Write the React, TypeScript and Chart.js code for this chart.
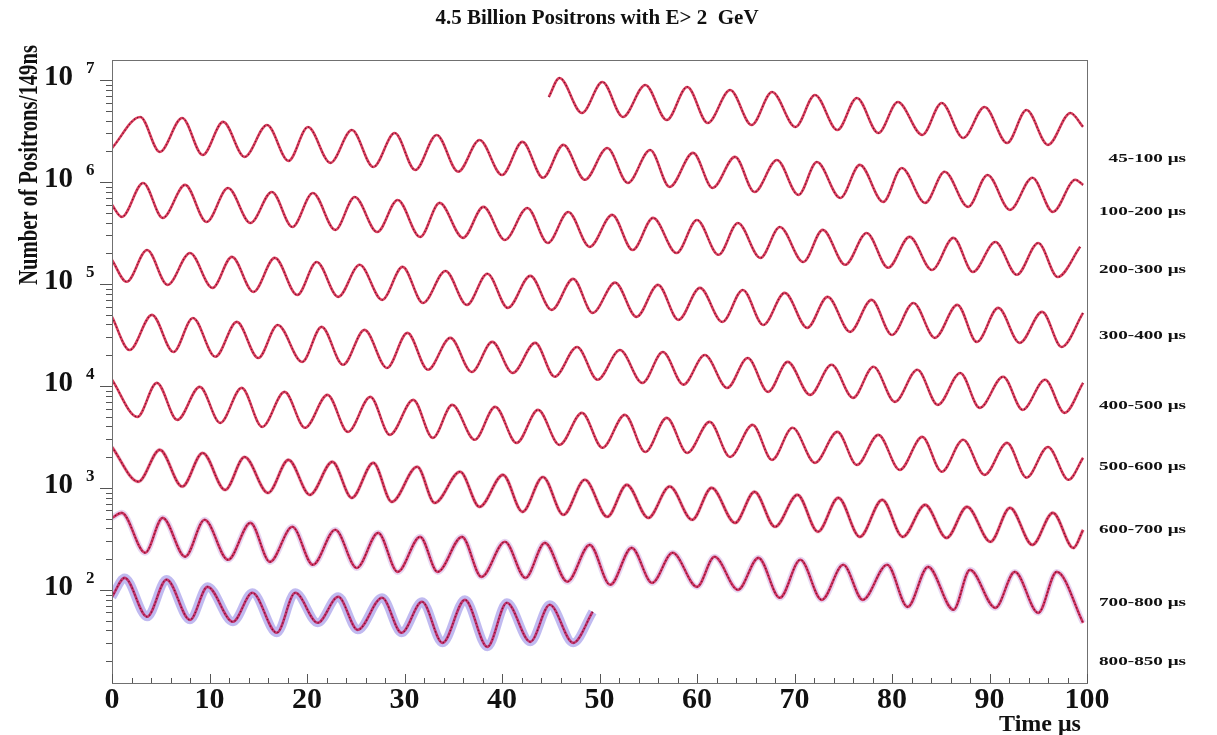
import React, { useEffect, useRef } from "react";
import { Chart, registerables } from "chart.js";

Chart.register(...registerables);

// ---------------- text ----------------
const TITLE = "4.5 Billion Positrons with E> 2  GeV";
const Y_TITLE = "Number of Positrons/149ns";
const X_TITLE = "Time μs";
const X_TICK_LABELS = [0, 10, 20, 30, 40, 50, 60, 70, 80, 90, 100];
const Y_DECADES = [2, 3, 4, 5, 6, 7];
const ROW_LABELS = [
  "45-100 μs",
  "100-200 μs",
  "200-300 μs",
  "300-400 μs",
  "400-500 μs",
  "500-600 μs",
  "600-700 μs",
  "700-800 μs",
  "800-850 μs",
];

// ---------------- data (time in μs within the 100 μs window, counts per 149 ns bin) ----------------
// 45-100 μs
const tA = [44.8, 45.9, 48.2, 50.3, 52.4, 54.7, 56.9, 59.0, 61.1, 63.4, 65.6, 67.7, 70.1, 72.1, 74.4, 76.4, 78.6, 80.6, 83.1, 85.1, 87.3, 89.5, 91.8, 93.8, 96.0, 98.3, 99.6];
const nA = [6.81e6, 1.046e7, 4.75e6, 9.56e6, 4.34e6, 8.93e6, 4.05e6, 8.54e6, 3.79e6, 7.98e6, 3.62e6, 7.63e6, 3.46e6, 7.13e6, 3.23e6, 6.66e6, 3.02e6, 6.09e6, 2.89e6, 5.95e6, 2.70e6, 5.44e6, 2.41e6, 5.08e6, 2.31e6, 4.75e6, 3.46e6];
// 100-200 μs
const tB = [0, 2.9, 4.9, 7.2, 9.3, 11.4, 13.6, 15.9, 18.1, 20.1, 22.4, 24.6, 26.8, 29.0, 31.1, 33.3, 35.5, 37.7, 40.0, 42.1, 44.2, 46.3, 48.5, 50.8, 52.9, 55.2, 57.2, 59.6, 61.6, 63.9, 65.9, 68.2, 70.4, 72.3, 74.7, 76.7, 79.1, 81.0, 83.4, 85.4, 87.8, 89.8, 92.1, 94.4, 96.5, 98.8, 99.6];
const nB = [2.15e6, 4.34e6, 1.97e6, 4.24e6, 1.84e6, 3.88e6, 1.76e6, 3.62e6, 1.61e6, 3.46e6, 1.54e6, 3.23e6, 1.40e6, 3.02e6, 1.31e6, 2.89e6, 1.26e6, 2.58e6, 1.17e6, 2.47e6, 1.10e6, 2.31e6, 1.05e6, 2.15e6, 9.78e5, 2.06e6, 8.93e5, 1.93e6, 8.73e5, 1.76e6, 7.98e5, 1.64e6, 7.46e5, 1.57e6, 6.97e5, 1.47e6, 6.37e5, 1.37e6, 6.23e5, 1.26e6, 5.69e5, 1.17e6, 5.32e5, 1.10e6, 5.08e5, 1.05e6, 9.35e5];
// 200-300 μs
const tC = [0, 1.0, 3.2, 5.2, 7.5, 9.7, 11.9, 14.2, 16.4, 18.5, 20.6, 22.9, 24.9, 27.2, 29.3, 31.6, 33.6, 36.0, 38.1, 40.3, 42.6, 44.7, 46.8, 49.0, 51.3, 53.4, 55.5, 57.9, 60.0, 62.2, 64.2, 66.5, 68.5, 70.9, 72.9, 75.2, 77.4, 79.6, 81.8, 84.1, 86.3, 88.3, 90.6, 92.8, 95.0, 97.0, 99.3];
const nC = [5.95e5, 4.54e5, 9.78e5, 4.44e5, 9.35e5, 4.05e5, 8.73e5, 3.96e5, 7.98e5, 3.62e5, 7.80e5, 3.39e5, 7.13e5, 3.23e5, 6.66e5, 2.89e5, 6.23e5, 2.83e5, 5.69e5, 2.70e5, 5.56e5, 2.52e5, 5.08e5, 2.31e5, 4.75e5, 2.15e5, 4.44e5, 2.01e5, 4.24e5, 1.93e5, 3.96e5, 1.80e5, 3.62e5, 1.64e5, 3.39e5, 1.54e5, 3.16e5, 1.44e5, 2.89e5, 1.37e5, 2.83e5, 1.31e5, 2.58e5, 1.23e5, 2.52e5, 1.17e5, 2.31e5];
// 300-400 μs
const tD = [0, 1.5, 3.6, 5.7, 8.0, 10.3, 12.3, 14.5, 16.7, 19.0, 21.0, 23.2, 25.4, 27.7, 29.8, 31.9, 34.2, 36.4, 38.5, 40.6, 42.9, 45.1, 47.3, 49.3, 51.6, 53.8, 56.0, 58.1, 60.3, 62.6, 64.7, 66.8, 69.0, 71.3, 73.4, 75.7, 77.9, 80.0, 82.2, 84.4, 86.7, 88.7, 90.9, 93.1, 95.4, 97.4, 99.6];
const nD = [1.72e5, 1.05e5, 2.15e5, 9.78e4, 2.01e5, 9.14e4, 1.84e5, 8.35e4, 1.80e5, 7.80e4, 1.64e5, 7.46e4, 1.54e5, 6.97e4, 1.47e5, 6.51e4, 1.34e5, 6.23e4, 1.26e5, 5.82e4, 1.20e5, 5.56e4, 1.12e5, 5.20e4, 1.03e5, 4.75e4, 9.78e4, 4.44e4, 9.14e4, 4.24e4, 8.73e4, 3.96e4, 8.16e4, 3.71e4, 7.46e4, 3.39e4, 6.97e4, 3.16e4, 6.51e4, 2.96e4, 6.23e4, 2.70e4, 5.82e4, 2.64e4, 5.32e4, 2.41e4, 5.20e4];
// 400-500 μs
const tE = [0, 1.8, 4.1, 6.3, 8.3, 10.6, 12.8, 15.0, 17.0, 19.5, 21.5, 23.7, 25.9, 28.2, 30.3, 32.4, 34.7, 36.9, 39.0, 41.1, 43.4, 45.4, 47.7, 49.8, 52.1, 54.4, 56.5, 58.6, 60.8, 63.1, 65.2, 67.3, 69.3, 71.6, 73.8, 76.0, 78.1, 80.3, 82.6, 84.7, 87.0, 89.0, 91.4, 93.4, 95.7, 97.7, 99.6];
const nE = [4.75e4, 2.25e4, 4.97e4, 2.15e4, 4.64e4, 1.93e4, 4.24e4, 1.88e4, 3.96e4, 1.72e4, 3.79e4, 1.61e4, 3.54e4, 1.50e4, 3.31e4, 1.44e4, 2.96e4, 1.37e4, 2.70e4, 1.34e4, 2.64e4, 1.23e4, 2.41e4, 1.15e4, 2.25e4, 1.07e4, 2.15e4, 1.03e4, 2.01e4, 9.56e3, 1.88e4, 8.73e3, 1.72e4, 8.16e3, 1.61e4, 7.63e3, 1.54e4, 6.97e3, 1.44e4, 6.51e3, 1.34e4, 6.09e3, 1.23e4, 5.82e3, 1.15e4, 5.44e3, 1.07e4];
// 500-600 μs
const tF = [0, 2.6, 4.6, 6.7, 9.0, 11.1, 13.3, 15.4, 17.7, 19.8, 22.1, 24.2, 26.5, 28.5, 30.9, 32.9, 34.9, 37.2, 39.3, 41.5, 43.7, 45.9, 48.2, 50.3, 52.6, 54.7, 56.9, 59.0, 61.3, 63.4, 65.7, 67.7, 69.8, 72.1, 74.4, 76.4, 78.6, 80.8, 83.1, 85.1, 87.3, 89.5, 91.8, 93.8, 96.0, 98.1, 99.6];
const nF = [1.15e4, 4.97e3, 1.07e4, 4.64e3, 9.78e3, 4.34e3, 9.56e3, 3.96e3, 8.73e3, 3.88e3, 8.16e3, 3.54e3, 7.80e3, 3.31e3, 7.29e3, 3.09e3, 6.51e3, 2.96e3, 6.23e3, 2.76e3, 5.82e3, 2.64e3, 5.44e3, 2.47e3, 5.20e3, 2.25e3, 4.86e3, 2.20e3, 4.44e3, 2.01e3, 4.15e3, 1.88e3, 3.88e3, 1.76e3, 3.54e3, 1.68e3, 3.31e3, 1.50e3, 3.16e3, 1.44e3, 2.96e3, 1.34e3, 2.76e3, 1.26e3, 2.52e3, 1.20e3, 1.97e3];
// 600-700 μs
const tG = [0, 2.7, 4.9, 7.2, 9.3, 11.6, 13.6, 16.0, 18.1, 20.3, 22.6, 24.6, 26.8, 28.7, 31.3, 33.1, 35.7, 37.7, 40.1, 42.1, 44.2, 46.3, 48.5, 50.8, 52.8, 55.0, 57.2, 59.5, 61.5, 63.9, 65.9, 68.0, 70.3, 72.4, 74.5, 76.7, 79.0, 81.1, 83.4, 85.6, 87.7, 90.1, 92.1, 94.4, 96.5, 98.6, 99.6];
const nG = [2.52e3, 1.15e3, 2.36e3, 1.03e3, 2.20e3, 956, 2.01e3, 893, 1.88e3, 854, 1.80e3, 798, 1.76e3, 729, 1.61e3, 713, 1.44e3, 651, 1.34e3, 582, 1.28e3, 544, 1.20e3, 520, 1.07e3, 508, 1.03e3, 486, 1.00e3, 454, 914, 415, 854, 371, 798, 331, 763, 331, 681, 323, 651, 296, 637, 276, 569, 258, 388];
// 700-800 μs
const tH = [0, 1.0, 3.4, 5.2, 7.5, 9.5, 11.9, 14.2, 16.2, 18.5, 20.6, 22.9, 25.1, 27.3, 29.3, 31.6, 33.4, 35.9, 37.9, 40.3, 42.4, 44.4, 46.7, 49.0, 51.1, 53.3, 55.4, 57.5, 60.0, 61.8, 64.2, 66.3, 68.5, 70.6, 72.8, 75.0, 77.0, 79.5, 81.6, 83.7, 86.3, 88.0, 90.6, 92.6, 95.0, 96.9, 99.6];
const nH = [508, 569, 231, 508, 211, 486, 197, 454, 188, 415, 176, 388, 164, 362, 150, 331, 150, 331, 134, 296, 131, 289, 120, 276, 112, 258, 117, 231, 107, 211, 100, 206, 83.5, 197, 79.8, 176, 79.8, 176, 68.1, 168, 63.7, 157, 66.6, 150, 59.5, 150, 47.5];
// 800-850 μs
const tJ = [0, 1.3, 3.6, 5.6, 8.0, 9.8, 12.4, 14.4, 16.9, 18.8, 21.1, 23.2, 25.2, 27.7, 29.7, 31.8, 33.9, 36.2, 38.5, 40.5, 42.9, 44.9, 47.3, 49.3];
const nJ = [85.4, 131, 54.4, 126, 50.8, 107, 48.6, 93.5, 37.9, 93.5, 47.5, 85.4, 40.5, 83.5, 37.9, 76.3, 30.2, 79.8, 27.6, 74.6, 30.9, 71.3, 30.2, 60.9];

const Y_MIN = 12.2;
const Y_MAX = 1.57e7;

// ---------------- layout / style ----------------
const W = 1217;
const H = 735;
const SERIF = '"Liberation Serif", "Times New Roman", Times, serif';
const ROW_LABEL_Y = [159, 212, 270, 336, 406, 467, 530, 603, 662];

type Row = { t: number[]; n: number[]; band: string | null; bandW: number; base: string };
const ROWS: Row[] = [
  { t: tA, n: nA, band: null, bandW: 0, base: "#dc3d5c" },
  { t: tB, n: nB, band: null, bandW: 0, base: "#dc3d5c" },
  { t: tC, n: nC, band: null, bandW: 0, base: "#dc3d5c" },
  { t: tD, n: nD, band: null, bandW: 0, base: "#dc3d5c" },
  { t: tE, n: nE, band: null, bandW: 0, base: "#dc3d5c" },
  { t: tF, n: nF, band: null, bandW: 0, base: "#dc3d5c" },
  { t: tG, n: nG, band: "rgba(190,60,110,0.18)", bandW: 4, base: "#d83658" },
  { t: tH, n: nH, band: "rgba(140,70,190,0.22)", bandW: 6, base: "#d33462" },
  { t: tJ, n: nJ, band: "rgba(105,90,220,0.42)", bandW: 9, base: "#c8346e" },
];

function buildDatasets() {
  const ds: any[] = [];
  ROWS.forEach((r) => {
    const data = r.t.map((x, i) => ({ x, y: r.n[i] }));
    if (r.band) {
      ds.push({ data, borderColor: r.band, borderWidth: r.bandW, order: 2 });
    }
    ds.push({ data, borderColor: r.base, borderWidth: 2.6, order: 1 });
    ds.push({
      data,
      borderColor: "rgba(100,15,45,0.9)",
      borderWidth: 1.3,
      borderDash: [1.2, 2.4],
      order: 0,
    });
  });
  return ds.map((d) => ({
    ...d,
    pointRadius: 0,
    fill: false,
    cubicInterpolationMode: "monotone",
    borderCapStyle: "butt",
  }));
}

const decorPlugin = {
  id: "decor",
  afterDraw(chart: any) {
    const { ctx, chartArea: a, scales } = chart;
    const xs = scales.x;
    const ys = scales.y;
    ctx.save();

    // frame
    ctx.strokeStyle = "#707070";
    ctx.lineWidth = 1;
    ctx.strokeRect(Math.round(a.left) + 0.5, Math.round(a.top) + 0.5, Math.round(a.right - a.left), Math.round(a.bottom - a.top));

    // ticks
    ctx.strokeStyle = "#555";
    ctx.beginPath();
    for (let v = 0; v <= 100; v += 2) {
      const px = Math.round(xs.getPixelForValue(v)) + 0.5;
      const len = v % 10 === 0 ? 9 : 5;
      ctx.moveTo(px, a.bottom);
      ctx.lineTo(px, a.bottom - len);
    }
    for (let e = 1; e <= 7; e++) {
      for (let m = 1; m <= 9; m++) {
        const val = m * Math.pow(10, e);
        if (val < Y_MIN || val > Y_MAX) continue;
        const py = Math.round(ys.getPixelForValue(val)) + 0.5;
        const len = m === 1 ? 12 : 6;
        ctx.moveTo(a.left - len, py);
        ctx.lineTo(a.left, py);
      }
    }
    ctx.stroke();

    ctx.fillStyle = "#111";

    // y tick labels 10^n
    Y_DECADES.forEach((e) => {
      const py = ys.getPixelForValue(Math.pow(10, e));
      ctx.font = `bold 29px ${SERIF}`;
      ctx.textAlign = "right";
      ctx.textBaseline = "middle";
      ctx.fillText("10", 73, py - 2);
      ctx.font = `bold 17px ${SERIF}`;
      ctx.textAlign = "left";
      ctx.fillText(String(e), 86, py - 11);
    });

    // x tick labels
    ctx.font = `bold 30px ${SERIF}`;
    ctx.textAlign = "center";
    ctx.textBaseline = "top";
    X_TICK_LABELS.forEach((v) => {
      ctx.fillText(String(v), xs.getPixelForValue(v), a.bottom + 2);
    });

    // x title
    ctx.font = `bold 24px ${SERIF}`;
    ctx.textAlign = "center";
    ctx.textBaseline = "alphabetic";
    ctx.fillText(X_TITLE, 1040, 731);

    // title
    ctx.font = `bold 21px ${SERIF}`;
    ctx.textAlign = "center";
    ctx.textBaseline = "middle";
    ctx.fillText(TITLE, 597, 19);

    // y title, condensed
    ctx.save();
    ctx.font = `bold 27px ${SERIF}`;
    const w = ctx.measureText(Y_TITLE).width;
    ctx.translate(30, 165);
    ctx.rotate(-Math.PI / 2);
    ctx.scale(240 / w, 1);
    ctx.textAlign = "center";
    ctx.textBaseline = "middle";
    ctx.fillText(Y_TITLE, 0, 0);
    ctx.restore();

    // row labels (slightly widened bold serif)
    ctx.font = `bold 13px ${SERIF}`;
    const ref = ctx.measureText(ROW_LABELS[1]).width;
    const k = 87 / ref;
    ctx.textAlign = "right";
    ctx.textBaseline = "middle";
    ROW_LABELS.forEach((s, i) => {
      ctx.save();
      ctx.translate(1186, ROW_LABEL_Y[i]);
      ctx.scale(k, 1);
      ctx.fillText(s, 0, 0);
      ctx.restore();
    });

    ctx.restore();
  },
};

export default function App() {
  const ref = useRef<HTMLCanvasElement | null>(null);
  useEffect(() => {
    if (!ref.current) return;
    const chart = new Chart(ref.current, {
      type: "line",
      data: { datasets: buildDatasets() },
      options: {
        animation: false,
        responsive: false,
        events: [],
        layout: { padding: { left: 0, right: 130, top: 60, bottom: 0 } },
        plugins: {
          legend: { display: false },
          tooltip: { enabled: false },
          title: { display: false },
        },
        scales: {
          x: {
            type: "linear",
            min: 0,
            max: 100,
            ticks: { display: false },
            grid: { display: false },
            border: { display: false },
            afterFit: (s: any) => {
              s.height = 52;
            },
          },
          y: {
            type: "logarithmic",
            min: Y_MIN,
            max: Y_MAX,
            ticks: { display: false },
            grid: { display: false },
            border: { display: false },
            afterFit: (s: any) => {
              s.width = 112;
            },
          },
        },
      } as any,
      plugins: [decorPlugin],
    });
    return () => chart.destroy();
  }, []);
  return (
    <div style={{ position: "fixed", left: 0, top: 0, width: W, height: H, background: "#fff" }}>
      <canvas ref={ref} width={W} height={H} style={{ display: "block" }} />
    </div>
  );
}
